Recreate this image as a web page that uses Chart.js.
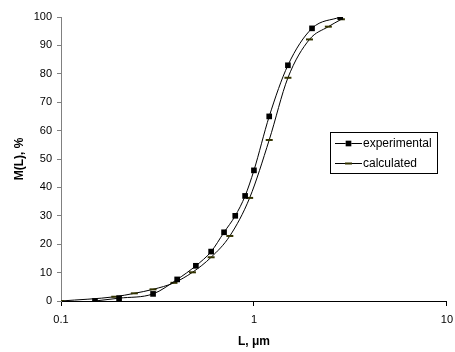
<!DOCTYPE html>
<html>
<head>
<meta charset="utf-8">
<script src="https://cdn.jsdelivr.net/npm/chart.js@4/dist/chart.umd.min.js"></script>
<style>
    html, body { margin: 0; padding: 0; background: #fff; }
    #wrap { width: 455px; height: 352px; position: relative; }
</style>
</head>
<body>
<div id="wrap"><canvas id="sizeChart" width="455" height="352"></canvas></div>
<script>
// particle size L (um) and cumulative mass fraction M(L) (%)
const expL = [0.15, 0.2, 0.3, 0.4, 0.5, 0.6, 0.7, 0.8, 0.9, 1.0, 1.2, 1.5, 2.0, 2.8];
const expM = [0, 1, 2.5, 7.6, 12.4, 17.4, 24.2, 30, 37, 46, 65, 83, 96, 100];

const calcL = [0.1, 0.19, 0.24, 0.3, 0.385, 0.48, 0.6, 0.75, 0.95, 1.2, 1.5, 1.94, 2.43, 2.84];
const calcM = [0, 1.5, 2.7, 4.1, 6.4, 10.1, 15.4, 22.9, 36.3, 56.7, 78.6, 92.1, 96.6, 99.2];

const xTicks = [0.1, 1, 10];
const yTicks = [0, 10, 20, 30, 40, 50, 60, 70, 80, 90, 100];

const seriesNames = ["experimental", "calculated"];

Chart.defaults.font.family = "'Liberation Sans', Arial, sans-serif";
Chart.defaults.color = "#000";

function toPoints(xs, ys) {
    return xs.map((x, i) => ({ x: x, y: ys[i] }));
}

// legend box sitting inside the plot, like a spreadsheet chart
const boxLegend = {
    id: "boxLegend",
    afterDraw(chart) {
        const ctx = chart.ctx;
        const left = 330, top = 132, w = 107, h = 41;
        ctx.save();
        ctx.fillStyle = "#fff";
        ctx.fillRect(left, top, w, h);
        ctx.strokeStyle = "#000";
        ctx.lineWidth = 1;
        ctx.strokeRect(left + 0.5, top + 0.5, w, h);
        ctx.font = "12px 'Liberation Sans', Arial, sans-serif";
        ctx.textBaseline = "middle";
        chart.data.datasets.forEach((ds, i) => {
            const y = top + 11.5 + i * 20;
            ctx.strokeStyle = ds.borderColor;
            ctx.lineWidth = 1;
            ctx.beginPath();
            ctx.moveTo(left + 5, y);
            ctx.lineTo(left + 32, y);
            ctx.stroke();
            Chart.helpers.drawPoint(ctx, {
                pointStyle: ds.pointStyle,
                radius: ds.pointRadius,
                borderWidth: ds.pointBorderWidth
            }, left + 18.5, y);
            ctx.fillStyle = ds.pointBackgroundColor;
            ctx.strokeStyle = ds.pointBorderColor;
            if (ds.pointStyle === "rect") {
                ctx.fill();
            } else {
                ctx.lineWidth = ds.pointBorderWidth;
                ctx.stroke();
            }
            ctx.fillStyle = "#000";
            ctx.fillText(ds.label, left + 33, y);
        });
        ctx.restore();
    }
};

new Chart(document.getElementById("sizeChart"), {
    type: "line",
    data: {
        datasets: [
            {
                label: seriesNames[0],
                data: toPoints(expL, expM),
                borderColor: "#000",
                borderWidth: 1,
                pointStyle: "rect",
                pointRadius: 4,
                pointBorderWidth: 0,
                pointBackgroundColor: "#000",
                pointBorderColor: "#000",
                cubicInterpolationMode: "monotone",
                fill: false
            },
            {
                label: seriesNames[1],
                data: toPoints(calcL, calcM),
                borderColor: "#000",
                borderWidth: 1,
                pointStyle: "line",
                pointRadius: 3.5,
                pointBorderWidth: 2,
                pointBackgroundColor: "#333300",
                pointBorderColor: "#333300",
                cubicInterpolationMode: "monotone",
                fill: false
            }
        ]
    },
    options: {
        responsive: false,
        animation: false,
        events: [],
        layout: { padding: { top: 17, right: 8, left: 0, bottom: 0 } },
        plugins: {
            legend: { display: false },
            tooltip: { enabled: false }
        },
        scales: {
            x: {
                type: "logarithmic",
                min: 0.1,
                max: 10,
                afterBuildTicks: scale => { scale.ticks = xTicks.map(v => ({ value: v })); },
                afterFit: scale => { scale.height = 51; },
                ticks: {
                    // tall line height pushes the labels down without widening the right padding
                    font: { size: 11, lineHeight: 2.1 },
                    padding: 2,
                    maxRotation: 0,
                    callback: v => String(v)
                },
                grid: { drawOnChartArea: false, tickLength: 5, color: "#000" },
                border: { color: "#000", width: 1 },
                title: {
                    display: true,
                    text: "L, μm",
                    font: { size: 12, weight: "bold" },
                    padding: { top: 4, bottom: 3 }
                }
            },
            y: {
                min: 0,
                max: 100,
                afterBuildTicks: scale => { scale.ticks = yTicks.map(v => ({ value: v })); },
                afterFit: scale => { scale.width = 61; },
                ticks: { font: { size: 11 }, padding: 5 },
                grid: { drawOnChartArea: false, tickLength: 4, color: "#808080" },
                border: { color: "#808080", width: 1 },
                title: {
                    display: true,
                    text: "M(L), %",
                    font: { size: 12, weight: "bold" },
                    padding: { top: 12, bottom: 0 }
                }
            }
        }
    },
    plugins: [boxLegend]
});
</script>
</body>
</html>
